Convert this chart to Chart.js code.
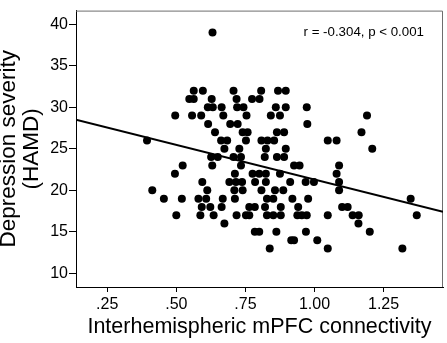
<!DOCTYPE html>
<html>
<head>
<meta charset="utf-8">
<title>mPFC connectivity vs HAMD</title>
<script src="https://cdn.jsdelivr.net/npm/chart.js@4.4.1/dist/chart.umd.min.js"></script>
<style>
    html, body { margin: 0; padding: 0; background: #fff; }
    #chart { display: block; }
</style>
</head>
<body>
<canvas id="chart" width="447" height="343"></canvas>
<script>
// HAMD scores (one row of dots per score) and the connectivity values read in each row
const hamdRows = [39, 32, 31, 30, 29, 28, 27, 26, 25, 24, 23, 22, 21, 20, 19, 18, 17, 16, 15, 14, 13];
const connByRow = [
    [0.631],
    [0.563, 0.596, 0.707, 0.807, 0.868, 0.896],
    [0.547, 0.563, 0.628, 0.718, 0.774, 0.801],
    [0.614, 0.632, 0.664, 0.720, 0.743, 0.860, 0.896, 0.972],
    [0.496, 0.557, 0.590, 0.670, 0.754, 0.842, 0.875, 1.190],
    [0.615, 0.695, 0.722, 0.974],
    [0.640, 0.740, 0.758, 0.864, 0.890, 1.170],
    [0.394, 0.662, 0.684, 0.752, 0.808, 0.830, 0.854, 1.048, 1.080],
    [0.674, 0.728, 0.824, 0.896, 1.209],
    [0.626, 0.650, 0.707, 0.734, 0.820, 0.864, 0.890],
    [0.523, 0.630, 0.734, 0.926, 0.946, 1.089],
    [0.495, 0.712, 0.776, 0.800, 0.824, 0.875, 1.080],
    [0.594, 0.692, 0.716, 0.738, 0.785, 0.824, 0.912, 0.968, 0.998, 1.089],
    [0.413, 0.612, 0.710, 0.740, 0.808, 0.857, 0.887, 1.089],
    [0.455, 0.520, 0.580, 0.608, 0.668, 0.712, 0.828, 0.851, 0.920, 0.977, 1.348],
    [0.592, 0.623, 0.664, 0.764, 0.784, 0.821, 0.878, 0.941, 1.100, 1.120],
    [0.500, 0.587, 0.635, 0.718, 0.752, 0.764, 0.828, 0.851, 0.878, 0.938, 0.954, 0.972, 1.048, 1.138, 1.160, 1.370],
    [0.674, 1.159],
    [0.784, 0.800, 0.862, 0.969, 1.200],
    [0.916, 0.926, 1.010],
    [0.838, 1.048, 1.318]
];

// fitted line, read at the two edges of the plot
const fitX = [0.137, 1.465];
const fitY = [28.49, 17.41];

const xTicks = [0.25, 0.50, 0.75, 1.00, 1.25];
const xTickLabels = ['.25', '.50', '.75', '1.00', '1.25'];
const yTicks = [10, 15, 20, 25, 30, 35, 40];

const corrLabel = 'r = -0.304, p < 0.001';
const FONT = '"Liberation Sans", Arial, sans-serif';

// build point list
const points = [];
hamdRows.forEach((score, i) => {
    connByRow[i].forEach(x => points.push({ x: x, y: score }));
});
const fitLine = fitX.map((x, i) => ({ x: x, y: fitY[i] }));

// gray frame on top/right + the r label
const framePlugin = {
    id: 'frame',
    beforeDatasetsDraw(chart) {
        const { ctx, chartArea: a } = chart;
        ctx.save();
        ctx.strokeStyle = '#6e6e6e';
        ctx.lineWidth = 1;
        ctx.beginPath();
        ctx.moveTo(a.left, a.top + 0.5);
        ctx.lineTo(a.right - 0.5, a.top + 0.5);
        ctx.lineTo(a.right - 0.5, a.bottom);
        ctx.stroke();
        ctx.restore();
    },
    afterDatasetsDraw(chart) {
        const { ctx, chartArea: a } = chart;
        ctx.save();
        ctx.font = '13.3px ' + FONT;
        ctx.fillStyle = '#000';
        ctx.textAlign = 'right';
        ctx.textBaseline = 'middle';
        ctx.fillText(corrLabel, a.right - 19, 32);
        ctx.restore();
    }
};

new Chart(document.getElementById('chart'), {
    type: 'scatter',
    data: {
        datasets: [
            {
                label: 'Subjects',
                data: points,
                backgroundColor: '#000',
                borderWidth: 0,
                pointRadius: 4,
                pointHoverRadius: 4
            },
            {
                type: 'line',
                label: 'Fit',
                data: fitLine,
                borderColor: '#000',
                borderWidth: 2,
                pointRadius: 0,
                fill: false
            }
        ]
    },
    options: {
        responsive: false,
        animation: false,
        events: [],
        layout: { padding: { left: 0, right: 2, top: 2, bottom: 0 } },
        plugins: {
            legend: { display: false },
            tooltip: { enabled: false }
        },
        scales: {
            x: {
                type: 'linear',
                min: 0.137,
                max: 1.465,
                afterFit(scale) { scale.height = 56; },
                afterBuildTicks(scale) { scale.ticks = xTicks.map(v => ({ value: v })); },
                grid: {
                    drawOnChartArea: false,
                    drawTicks: true,
                    tickLength: 5,
                    tickColor: '#000'
                },
                border: { color: '#000', width: 1 },
                ticks: {
                    color: '#000',
                    padding: 3,
                    maxRotation: 0,
                    font: { family: FONT, size: 16 },
                    callback: (v, i) => xTickLabels[i]
                },
                title: {
                    display: true,
                    text: 'Interhemispheric mPFC connectivity',
                    color: '#000',
                    font: { family: FONT, size: 21.5 },
                    padding: { top: 0, bottom: 3 }
                }
            },
            y: {
                type: 'linear',
                min: 8.36,
                max: 41.64,
                afterFit(scale) { scale.width = 76; },
                afterBuildTicks(scale) { scale.ticks = yTicks.map(v => ({ value: v })); },
                grid: {
                    drawOnChartArea: false,
                    drawTicks: true,
                    tickLength: 7,
                    tickColor: '#000'
                },
                border: { color: '#000', width: 1 },
                ticks: {
                    color: '#000',
                    padding: 1,
                    font: { family: FONT, size: 16 }
                },
                title: {
                    display: true,
                    text: ['Depression severity', '(HAMD)'],
                    color: '#000',
                    font: { family: FONT, size: 22.5, lineHeight: 1.06 },
                    padding: { top: -3.5, bottom: 0 }
                }
            }
        }
    },
    plugins: [framePlugin]
});
</script>
</body>
</html>
